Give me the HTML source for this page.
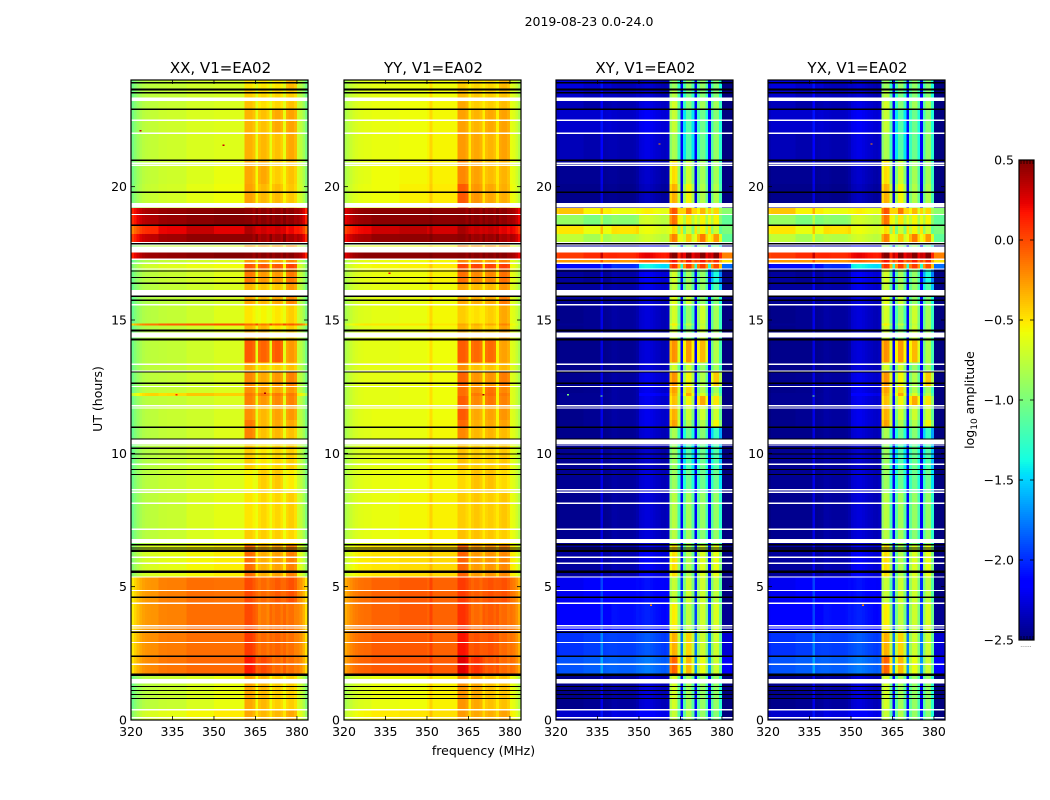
<!DOCTYPE html>
<html lang="en">
<head>
<meta charset="utf-8">
<title>2019-08-23 0.0-24.0</title>
<style>
html,body{margin:0;padding:0;background:#fff;width:1050px;height:800px;overflow:hidden}
svg{display:block}
text{font-family:"DejaVu Sans","Liberation Sans",sans-serif;fill:#000}
</style>
</head>
<body>
<svg id="figure" width="1050" height="800" viewBox="0 0 1050 800" xmlns="http://www.w3.org/2000/svg">
  <rect x="0" y="0" width="1050" height="800" fill="#fff"/>
  <text x="589" y="26" font-size="12.5" text-anchor="middle">2019-08-23 0.0-24.0</text>
  <text x="483.5" y="755" font-size="12.5" text-anchor="middle">frequency (MHz)</text>
  <text transform="translate(102,399) rotate(-90)" font-size="12.5" text-anchor="middle">UT (hours)</text>
  <text transform="translate(974,400) rotate(-90)" font-size="12.5" text-anchor="middle">log<tspan font-size="9" dy="3">10</tspan><tspan dy="-3"> amplitude</tspan></text>
  <text x="1026" y="647" font-size="6" text-anchor="middle" style="fill:#555">......</text>
</svg>
<script>
// ---- Chart data -------------------------------------------------------
const xTickLabels = [320, 335, 350, 365, 380];
const yTickLabels = [0, 5, 10, 15, 20];
const colorbarTicks = [0.5, 0.0, -0.5, -1.0, -1.5, -2.0, -2.5];
const panelTitles = ["XX, V1=EA02", "YY, V1=EA02", "XY, V1=EA02", "YX, V1=EA02"];

// Top edge (UT hours) of each time block, top of the plot first; last block ends at 0.
const blockTopUT = [24.0,23.6,23.2,22.9,22.0,21.0,20.1,19.4,19.2,18.96,18.55,18.22,17.93,17.55,17.27,17.1,16.9,16.38,15.9,15.57,14.87,14.8,14.27,13.4,13.05,12.5,12.27,12.15,11.75,11.25,10.98,10.35,9.4,8.55,7.15,6.6,5.35,4.38,3.3,2.4,1.7,0.39];

// log10 amplitude per block: four off-band groups (320-329, 330-339, 340-349, 350-360 MHz), then four subbands.
const xxBlocks = [
[-.72,-.72,-.7,-.7,-.5,-.5,-.5,-.35],
[-.72,-.72,-.7,-.7,-.42,-.45,-.45,-.42],
[-.72,-.7,-.68,-.68,-.38,-.48,-.45,-.38],
[-.7,-.68,-.66,-.66,-.34,-.38,-.3,-.28],
[-.7,-.68,-.66,-.66,-.33,-.35,-.38,-.3],
[-.7,-.68,-.65,-.62,-.3,-.3,-.42,-.38],
[-.68,-.66,-.62,-.6,-.28,-.35,-.36,-.4],
[-.68,-.66,-.62,-.6,-.28,-.35,-.36,-.4],
[.45,.47,.47,.47,.47,.47,.47,.47],
[.42,.46,.47,.47,.48,.48,.48,.46],
[.15,.25,.32,.22,.38,.3,.3,.22],
[.38,.44,.46,.44,.46,.42,.42,.4],
[-.72,-.7,-.68,-.66,-.3,-.3,-.3,-.25],
[.47,.47,.47,.47,.48,.48,.48,.48],
[-.75,-.72,-.7,-.68,-.25,-.25,-.3,-.2],
[-.65,-.62,-.6,-.6,-.05,-.05,-.05,.02],
[-.72,-.7,-.68,-.65,-.15,-.25,-.25,-.15],
[-.74,-.72,-.7,-.68,-.35,-.4,-.4,-.25],
[-.76,-.74,-.72,-.7,-.3,-.35,-.3,-.2],
[-.74,-.72,-.7,-.66,-.5,-.55,-.5,-.42],
[-.1,-.05,-.05,-.05,-.1,-.15,-.1,-.05],
[-.74,-.72,-.7,-.66,-.35,-.35,-.5,-.42],
[-.72,-.72,-.7,-.68,-.05,-.08,-.05,-.25],
[-.72,-.72,-.7,-.68,-.32,-.42,-.42,-.38],
[-.72,-.72,-.7,-.68,-.2,-.3,-.25,-.18],
[-.72,-.72,-.7,-.68,-.22,-.28,-.3,-.25],
[-.4,-.45,-.4,-.45,-.15,-.15,-.15,-.15],
[-.72,-.72,-.7,-.68,-.18,-.25,-.2,-.18],
[-.72,-.7,-.7,-.68,-.22,-.35,-.28,-.25],
[-.72,-.7,-.7,-.66,-.15,-.35,-.3,-.3],
[-.74,-.72,-.7,-.66,-.18,-.38,-.35,-.38],
[-.74,-.72,-.7,-.66,-.42,-.5,-.45,-.42],
[-.72,-.7,-.68,-.66,-.55,-.42,-.4,-.52],
[-.72,-.7,-.66,-.64,-.5,-.45,-.45,-.42],
[-.72,-.7,-.66,-.64,-.42,-.42,-.42,-.45],
[-.62,-.6,-.56,-.55,-.12,-.32,-.28,-.18],
[-.2,-.15,-.12,-.15,0,-.1,-.05,-.02],
[-.2,-.16,-.12,-.14,0,-.15,-.1,-.12],
[-.18,-.14,-.12,-.14,.05,-.1,-.08,-.12],
[-.16,-.12,-.1,-.12,.15,0,-.1,-.12],
[-.72,-.7,-.66,-.62,-.3,-.35,-.42,-.42],
[-.62,-.6,-.56,-.54,-.3,-.35,-.35,-.3]
];
const yyBlocks = [
[-.64,-.62,-.6,-.58,-.42,-.45,-.45,-.35],
[-.64,-.62,-.6,-.58,-.36,-.4,-.42,-.38],
[-.62,-.6,-.58,-.56,-.3,-.42,-.42,-.36],
[-.62,-.6,-.58,-.56,-.28,-.34,-.3,-.28],
[-.62,-.6,-.58,-.55,-.26,-.3,-.34,-.28],
[-.62,-.58,-.56,-.54,-.2,-.28,-.36,-.34],
[-.6,-.58,-.54,-.52,-.05,-.24,-.3,-.32],
[-.6,-.58,-.54,-.52,-.05,-.24,-.3,-.32],
[.46,.47,.47,.47,.47,.47,.47,.47],
[.44,.47,.47,.47,.48,.48,.48,.46],
[.22,.3,.34,.28,.4,.32,.32,.25],
[.4,.45,.46,.45,.47,.44,.44,.4],
[-.62,-.6,-.58,-.56,-.2,-.25,-.25,-.22],
[.47,.47,.47,.47,.48,.48,.48,.48],
[-.62,-.6,-.58,-.56,-.2,-.22,-.25,-.18],
[-.58,-.56,-.54,-.52,.02,.02,.02,.05],
[-.62,-.6,-.58,-.55,-.12,-.2,-.2,-.12],
[-.64,-.62,-.6,-.58,-.3,-.36,-.36,-.24],
[-.64,-.62,-.6,-.58,-.3,-.32,-.3,-.16],
[-.64,-.62,-.6,-.56,-.42,-.48,-.42,-.3],
[-.5,-.5,-.5,-.5,-.3,-.32,-.3,-.18],
[-.64,-.62,-.6,-.56,-.34,-.38,-.42,-.28],
[-.62,-.62,-.6,-.58,-.06,-.1,-.1,-.28],
[-.62,-.62,-.6,-.58,-.22,-.38,-.38,-.35],
[-.62,-.62,-.6,-.58,-.08,-.24,-.24,-.16],
[-.62,-.62,-.6,-.58,-.12,-.22,-.12,-.2],
[-.62,-.62,-.6,-.58,-.12,-.15,-.1,-.15],
[-.62,-.62,-.6,-.58,-.06,-.2,-.14,-.18],
[-.62,-.6,-.6,-.58,-.05,-.3,-.28,-.24],
[-.62,-.6,-.6,-.56,-.1,-.32,-.3,-.28],
[-.64,-.62,-.6,-.56,-.2,-.35,-.34,-.36],
[-.64,-.62,-.6,-.56,-.38,-.42,-.42,-.4],
[-.62,-.6,-.58,-.56,-.46,-.38,-.38,-.46],
[-.62,-.6,-.56,-.54,-.42,-.4,-.42,-.4],
[-.62,-.6,-.56,-.54,-.38,-.38,-.4,-.42],
[-.52,-.5,-.47,-.46,-.08,-.26,-.24,-.2],
[-.12,-.08,-.05,-.08,.05,-.06,-.02,-.02],
[-.12,-.08,-.05,-.08,.08,-.1,-.05,-.1],
[-.1,-.06,-.05,-.08,.18,-.02,-.02,-.1],
[-.08,-.05,-.04,-.06,.25,.08,-.04,-.1],
[-.64,-.6,-.58,-.54,-.24,-.3,-.38,-.38],
[-.55,-.52,-.5,-.48,-.26,-.3,-.32,-.28]
];
const xyBlocks = [
[-2.25,-2.3,-2.35,-2.4,-.95,-.95,-.95,-1],
[-2.3,-2.35,-2.35,-2.4,-.85,-1.05,-1,-1],
[-2.35,-2.4,-2.38,-2.35,-.75,-1,-.9,-.9],
[-2.3,-2.3,-2.32,-2.3,-.8,-1.2,-1.1,-1],
[-2.35,-2.38,-2.38,-2.35,-.9,-1.2,-1.1,-.95],
[-2.45,-2.45,-2.45,-2.42,-.55,-.75,-.9,-.9],
[-2.47,-2.47,-2.47,-2.45,-.4,-.6,-.85,-.85],
[-2.47,-2.47,-2.47,-2.45,-.4,-.6,-.85,-.85],
[-.4,-.55,-.6,-.65,-.1,-.2,-.4,-.5],
[-.9,-1,-.95,-.8,-.2,-.55,-.6,-.6],
[-.5,-.6,-.5,-.7,-.55,-.75,-.6,-.75],
[-.75,-.85,-.8,-.8,-.25,-.45,-.2,-.3],
[-2.45,-2.4,-2.4,-2.3,-.95,-.95,-.95,-1.1],
[.05,.1,.1,.12,.47,.47,.47,.47],
[-.25,-.25,-.25,-.2,.1,.1,.1,.05],
[-2.1,-2.1,-2,-1.5,0,0,0,-.05],
[-2.42,-2.45,-2.4,-2.3,-.75,-.9,-.95,-1.4],
[-2.42,-2.42,-2.4,-2.33,-.8,-.9,-.95,-1.2],
[-2.45,-2.45,-2.42,-2.38,-.7,-.75,-.95,-1],
[-2.47,-2.45,-2.42,-2.38,-.75,-.95,-.75,-.9],
[-2.45,-2.45,-2.42,-2.38,-.6,-.8,-.8,-.9],
[-2.47,-2.45,-2.42,-2.38,-.75,-.95,-.75,-.9],
[-2.47,-2.47,-2.45,-2.38,-.3,-.3,-.4,-.85],
[-2.47,-2.47,-2.45,-2.38,-.75,-.75,-.95,-.9],
[-2.46,-2.45,-2.42,-2.33,-.3,-.6,-.85,-.45],
[-2.47,-2.46,-2.42,-2.33,-.35,-.5,-.85,-.9],
[-2.45,-2.45,-2.42,-2.25,-.4,-.35,-.7,-.8],
[-2.45,-2.45,-2.42,-2.33,-.45,-.6,-.35,-.55],
[-2.47,-2.45,-2.42,-2.33,-.4,-.75,-.75,-.75],
[-2.47,-2.45,-2.42,-2.33,-.35,-.85,-.85,-.6],
[-2.47,-2.47,-2.45,-2.38,-.9,-1.1,-1,-1.3],
[-2.45,-2.45,-2.42,-2.42,-.95,-1.2,-1.1,-1.2],
[-2.45,-2.45,-2.42,-2.38,-.95,-1.1,-1.1,-1.1],
[-2.46,-2.46,-2.42,-2.38,-.85,-.9,-.95,-.95],
[-2.46,-2.46,-2.42,-2.38,-.85,-.9,-1,-.95],
[-2.42,-2.42,-2.38,-2.3,-.55,-.85,-.7,-.65],
[-2.2,-2.15,-2.15,-2.2,-.8,-.75,-.75,-.8],
[-2.15,-2.15,-2.1,-2.15,-.6,-.8,-.75,-.7],
[-1.98,-1.95,-1.95,-1.98,-.4,-.5,-.75,-.75],
[-1.88,-1.85,-1.85,-1.88,-.15,-.4,-.65,-.75],
[-2.47,-2.45,-2.42,-2.38,-.75,-.9,-.95,-.95],
[-2.3,-2.3,-2.25,-2.25,-.8,-.85,-.95,-1]
];
const yxBlocks = xyBlocks;

// Per-channel bandpass offset (64 channels, 320-383 MHz).
const xxChannelOffset = [-.33,-.25,-.18,-.12,-.08,-.06,-.05,-.04,-.04,-.04,-.03,-.03,-.03,-.02,-.02,-.02,-.02,-.02,-.02,-.02,0,0,0,0,0,0,0,0,0,0,.02,.02,.02,.02,.02,.02,.02,.02,.02,.02,.02,0,0,0,-.05,.05,-.04,0,0,-.05,.05,-.04,0,0,-.05,.05,-.04,0,0,-.06,-.05,-.1,-.2,-.35];
const yyChannelOffset = [-.2,-.15,-.1,-.06,-.04,-.02,-.01,0,0,0,0,0,0,0,0,0,0,0,0,0,0,0,0,0,0,0,0,0,0,0,0,.1,0,0,0,0,0,0,0,0,0,0,0,0,-.04,.03,-.03,0,0,-.04,.03,-.03,0,0,-.04,.03,-.03,0,0,-.05,-.05,-.08,-.15,-.25];
const xyChannelOffset = [-.03,0,0,0,0,0,0,0,0,0,0,0,0,0,0,0,.22,0,.01,.02,.02,.02,.01,0,0,0,0,0,.01,.04,.08,.1,.12,.12,.1,.08,.06,.05,.03,.02,.05,-.05,.08,.05,-.35,.2,-.25,.05,.05,-.25,.2,-.15,.05,.05,-.25,.2,-.2,.05,.05,-.35,-.3,-.3,-.3,-.3];
const yxChannelOffset = xyChannelOffset;

// Flagged times (UT hours): blanked rows draw white, bad rows draw black.
const thinWhiteUT = [22.49,22.00,20.88,20.80,18.96,17.91,17.81,17.28,17.13,16.91,15.57,13.34,13.08,12.51,11.79,11.70,10.31,9.59,8.64,8.54,8.13,7.15,6.10,5.88,5.36,4.86,4.38,3.54,3.45,3.36,2.91,2.09,0.39,0.09];
const whiteBlocksStartUT = [23.21,19.21,17.54,15.90,14.34,10.35,6.63,1.36];
const whiteBlocksEndUT = [23.35,19.38,17.75,16.13,14.54,10.51,6.78,1.53];
const thinBlackUT = [23.90,23.52,22.90,20.99,19.79,18.55,17.86,16.84,16.59,16.38,15.89,15.74,13.05,12.63,10.98,10.54,10.19,9.98,9.81,9.39,9.21,6.57,6.45,4.60,3.29,2.39,1.26,1.11,0.96,0.81];
const thickBlackUT = [23.64,14.61,14.27,6.35,5.56,1.70];

// Isolated outlier samples: panel index, UT hours, channel, value.
const speckPanel = [0,0,0,0,1,1,2,2,2,2,3,3,3];
const speckUT = [22.1,21.55,12.2,12.25,16.75,12.2,21.6,12.15,12.2,4.3,12.15,21.6,4.3];
const speckChannel = [3,33,16,48,16,50,37,16,4,34,16,37,34];
const speckValue = [.3,.3,.1,.4,.2,.4,-.2,-1,-1,-.2,-1,-.2,-.2];

const panelLeft = [131, 344, 556, 768];
const panelBlocks = [xxBlocks, yyBlocks, xyBlocks, yxBlocks];
const panelOffsets = [xxChannelOffset, yyChannelOffset, xyChannelOffset, yxChannelOffset];

// ---- Scales and helpers -----------------------------------------------
const NS = "http://www.w3.org/2000/svg";
const figure = document.getElementById("figure");
const panelWidth = 177, plotTop = 80, plotBottom = 720;
const channelCount = 64;
const yScale = ut => plotBottom - (ut / 24) * (plotBottom - plotTop);
const xScale = (left, mhz) => left + ((mhz - 320) / channelCount) * panelWidth;
const barY = v => 160 + ((0.5 - v) / 3) * 480;

function interp(t, xs, ys) {
  for (let i = 1; i < xs.length; i++) {
    if (t <= xs[i]) return ys[i - 1] + (ys[i] - ys[i - 1]) * (t - xs[i - 1]) / (xs[i] - xs[i - 1]);
  }
  return ys[ys.length - 1];
}
function jet(v) {
  const t = Math.max(0, Math.min(1, (v + 2.5) / 3));
  const r = interp(t, [0, .35, .66, .89, 1], [0, 0, 1, 1, .5]);
  const g = interp(t, [0, .125, .375, .64, .91, 1], [0, 0, 1, 1, 0, 0]);
  const b = interp(t, [0, .11, .34, .65, 1], [.5, 1, 1, 0, 0]);
  return "rgb(" + Math.round(r * 255) + "," + Math.round(g * 255) + "," + Math.round(b * 255) + ")";
}
function shape(tag, geometry, parent) {
  const el = document.createElementNS(NS, tag);
  for (const key in geometry) el.setAttribute(key, geometry[key]);
  parent.appendChild(el);
  return el;
}
function cellValue(block, offsets, ch) {
  let v;
  if (ch >= 41 && ch < 45) v = block[4];
  else if (ch >= 46 && ch < 50) v = block[5];
  else if (ch >= 51 && ch < 55) v = block[6];
  else if (ch >= 56 && ch < 60) v = block[7];
  else if (ch < 40) v = block[Math.floor(ch / 10)];
  else v = block[3];
  return v + offsets[ch];
}

// ---- Panels -----------------------------------------------------------
panelLeft.forEach((left, p) => {
  const g = shape("g", {"shape-rendering": "crispEdges"}, figure);
  
  

  panelBlocks[p].forEach((block, b) => {
    const top = yScale(blockTopUT[b]);
    const bottomUT = b + 1 < blockTopUT.length ? blockTopUT[b + 1] : 0;
    const h = yScale(bottomUT) - top;
    for (let ch = 0; ch < channelCount; ch++) {
      const x0 = xScale(left, 320 + ch);
      const x1 = xScale(left, 321 + ch);
      const cell = shape("rect", {x: x0, y: top, width: x1 - x0 + 0.3, height: h, fill: jet(cellValue(block, panelOffsets[p], ch))}, g);
      
      
    }
  });

  speckPanel.forEach((sp, i) => {
    if (sp !== p) return;
    const x0 = xScale(left, 320 + speckChannel[i]);
    const speck = shape("rect", {x: x0, y: yScale(speckUT[i]) - 0.7, width: 2, height: 1.4, fill: jet(speckValue[i])}, g);
    
    
  });

  whiteBlocksStartUT.forEach((startUT, i) => {
    const y0 = yScale(whiteBlocksEndUT[i]);
    const flag = shape("rect", {x: left, y: y0, width: panelWidth, height: yScale(startUT) - y0, fill: "#fff"}, g);
    
    
  });
  thinWhiteUT.forEach(ut => {
    const flag = shape("rect", {x: left, y: yScale(ut) - 0.65, width: panelWidth, height: 1.3, fill: "#fff"}, g);
    
    
  });
  thinBlackUT.forEach(ut => {
    const flag = shape("rect", {x: left, y: yScale(ut) - 0.6, width: panelWidth, height: 1.2, fill: "#000"}, g);
    
    
  });
  thickBlackUT.forEach(ut => {
    const flag = shape("rect", {x: left, y: yScale(ut) - 1.1, width: panelWidth, height: 2.2, fill: "#000"}, g);
    
    
  });

  // Axes frame, ticks and labels
  const frame = shape("rect", {x: left, y: plotTop, width: panelWidth, height: plotBottom - plotTop, fill: "none", stroke: "#000", "stroke-width": 1.2}, figure);
  
  

  const title = shape("text", {x: left + panelWidth / 2 + 1, y: 73, "font-size": 15, "text-anchor": "middle"}, figure);
  title.textContent = panelTitles[p];
  
  

  xTickLabels.forEach(mhz => {
    const x = xScale(left, mhz);
    [[plotBottom, plotBottom - 4], [plotTop, plotTop + 4]].forEach(ends => {
      const tick = shape("line", {x1: x, x2: x, y1: ends[0], y2: ends[1], stroke: "#000", "stroke-width": 0.8}, figure);
      
      
    });
    const label = shape("text", {x: x, y: 736, "font-size": 12.5, "text-anchor": "middle"}, figure);
    label.textContent = mhz;
    
    
  });
  yTickLabels.forEach(ut => {
    const y = yScale(ut);
    [[left, left + 4], [left + panelWidth, left + panelWidth - 4]].forEach(ends => {
      const tick = shape("line", {x1: ends[0], x2: ends[1], y1: y, y2: y, stroke: "#000", "stroke-width": 0.8}, figure);
      
      
    });
    const label = shape("text", {x: left - 4, y: y + 4.5, "font-size": 12.5, "text-anchor": "end"}, figure);
    label.textContent = ut;
    
    
  });
});

// ---- Colorbar ---------------------------------------------------------
const barGroup = shape("g", {"shape-rendering": "crispEdges"}, figure);


for (let y = 160; y < 640; y += 2) {
  const v = 0.5 - ((y + 1 - 160) / 480) * 3;
  const swatch = shape("rect", {x: 1019, y: y, width: 15, height: 2.2, fill: jet(v)}, barGroup);
  
  
}
const barFrame = shape("rect", {x: 1019, y: 160, width: 15, height: 480, fill: "none", stroke: "#000", "stroke-width": 1.2}, figure);


colorbarTicks.forEach(v => {
  const y = barY(v);
  [[1019, 1023], [1034, 1030]].forEach(ends => {
    const tick = shape("line", {x1: ends[0], x2: ends[1], y1: y, y2: y, stroke: "#000", "stroke-width": 0.8}, figure);
    
    
  });
  const label = shape("text", {x: 1014, y: y + 4.5, "font-size": 12.5, "text-anchor": "end"}, figure);
  label.textContent = v.toFixed(1).replace("-", "\u2212");
  
  
});
for (let x = 1021; x < 1034; x += 3) {
  [[160, 164], [640, 636]].forEach(ends => {
    const tick = shape("line", {x1: x, x2: x, y1: ends[0], y2: ends[1], stroke: "#000", "stroke-width": 0.7}, figure);
    
    
  });
}
</script>
</body>
</html>
